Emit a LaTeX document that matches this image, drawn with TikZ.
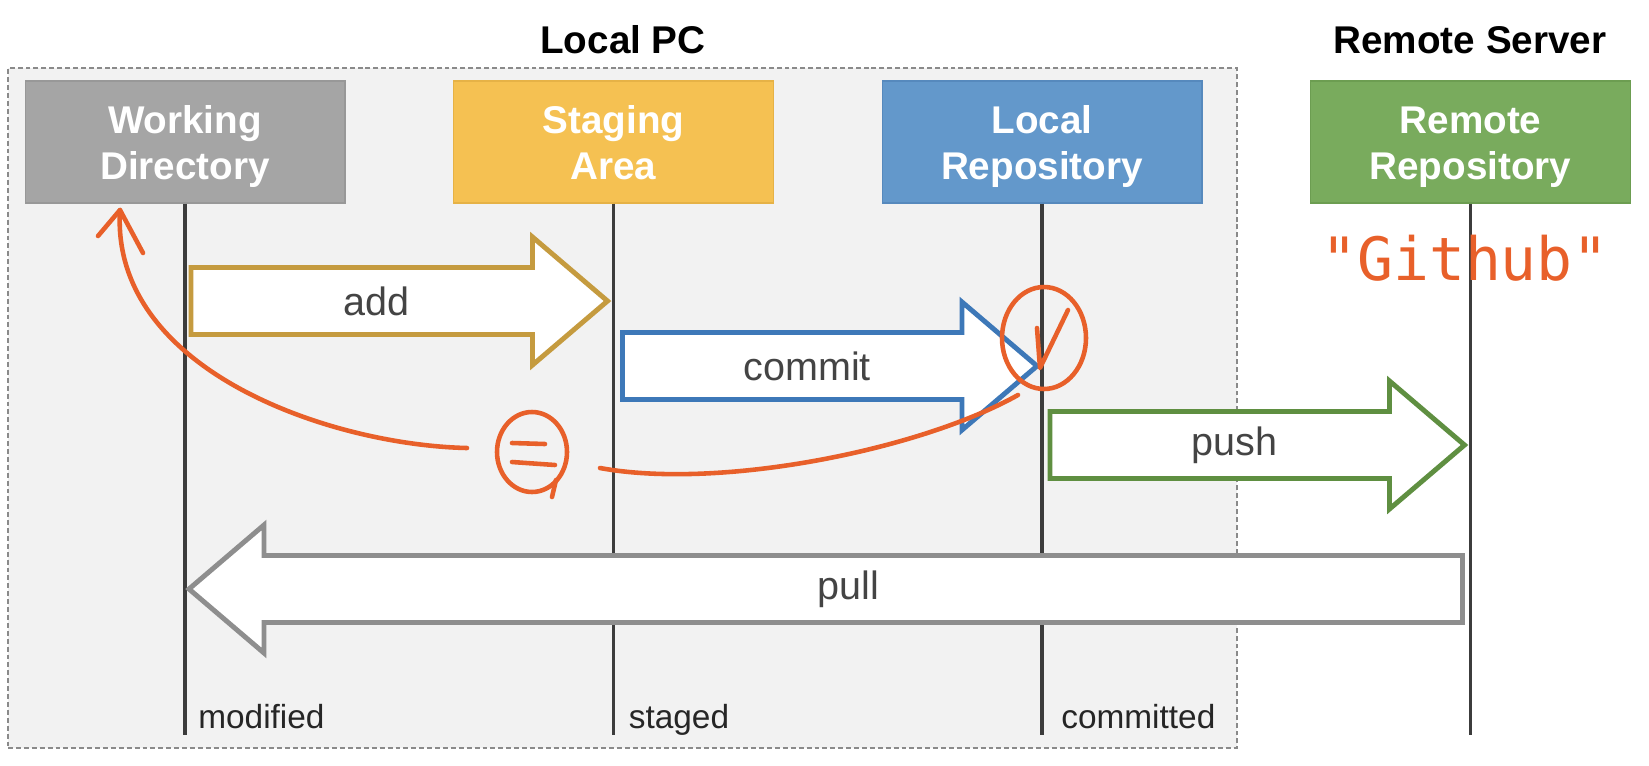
\documentclass[tikz,border=0pt]{standalone}
\usepackage{fontspec}
\setmainfont{Liberation Sans}
\newfontfamily\handfont{DejaVu Sans Mono}
\usepackage{tikz}
\usetikzlibrary{calc, positioning}

\definecolor{wdfill}{HTML}{A5A5A5}
\definecolor{wdline}{HTML}{989898}
\definecolor{safill}{HTML}{F5C152}
\definecolor{saline}{HTML}{E6B246}
\definecolor{lrfill}{HTML}{6398CB}
\definecolor{lrline}{HTML}{5689BD}
\definecolor{rrfill}{HTML}{79AB5D}
\definecolor{rrline}{HTML}{6C9D51}
\definecolor{addcol}{HTML}{C59B3F}
\definecolor{commitcol}{HTML}{3D78B8}
\definecolor{pushcol}{HTML}{5F8F41}
\definecolor{pullcol}{HTML}{8E8E8E}
\definecolor{lifegray}{HTML}{3C3C3C}
\definecolor{labelgray}{HTML}{444444}
\definecolor{pcfill}{HTML}{F2F2F2}
\definecolor{pcline}{HTML}{8A8A8A}
\definecolor{pen}{HTML}{E8602A}

\tikzset{
  area/.style={draw, line width=0.6pt, minimum width=6.4cm, minimum height=2.44cm,
    inner sep=0pt, align=center, text=white, font=\bfseries\fontsize{22}{26.2}\selectfont,
    text height=1.68cm, text depth=0.16cm},
  title/.style={font=\bfseries\fontsize{22}{26}\selectfont},
  lifeline/.style={draw=lifegray, line width=2pt},
  fat/.style={fill=white, line width=2.8pt, line join=miter},
  verb/.style={text=labelgray, font=\fontsize{22.5}{26}\selectfont},
  phase/.style={anchor=base west, inner sep=0pt, text=black!85, font=\fontsize{19}{22}\selectfont},
  scribble/.style={draw=pen, line width=2.6pt, line cap=round, line join=round}
}

% #1 tail, #2 tip, #3 colour, #4 label
\newcommand{\fatarrow}[4]{%
  \draw[fat, draw=#3] let \p1=(#1), \p2=(#2), \p3=($(#2)!1.5cm!(#1)$),
      \p4=($(#1)!.5!(\p3)$), \p5=($(\p4)!0.3cm!(#2)$) in
    (\x1,\y1+0.67cm) -- (\x3,\y1+0.67cm) -- (\x3,\y1+1.28cm) -- (\p2)
    -- (\x3,\y1-1.28cm) -- (\x3,\y1-0.67cm) -- (\x1,\y1-0.67cm) -- cycle
    (\p5) node[verb] (#4) {#4};
}

\begin{document}
\begin{tikzpicture}[x=0.02cm, y=-0.02cm]
  \useasboundingbox (0,0) rectangle (1649,765);

  \node[draw=pcline, fill=pcfill, line width=1pt, dash pattern=on 2.8pt off 1.7pt,
    minimum width=24.58cm, minimum height=13.6cm] (local) at (622.5,408) {};
  \node[title] (localpc) at (623,40) {Local PC};
  \node[title] (server) at (1470,40) {Remote Server};

  \node[area, fill=wdfill, draw=wdline] (wd) at (185,142) {Working\\Directory};
  \node[area, fill=safill, draw=saline] (sa) at (613.5,142) {Staging\\Area};
  \node[area, fill=lrfill, draw=lrline] (lr) at (1042,142) {Local\\Repository};
  \node[area, fill=rrfill, draw=rrline] (rr) at (1470.5,142) {Remote\\Repository};

  \coordinate (wd end) at (wd.south |- 0,735);
  \coordinate (sa end) at (sa.south |- 0,735);
  \coordinate (lr end) at (lr.south |- 0,735);
  \coordinate (rr end) at (rr.south |- 0,735);
  \path[lifeline]
    (wd) edge (wd end)
    (sa) edge (sa end)
    (lr) edge (lr end)
    (rr) edge (rr end);

  \coordinate (add tail) at ($(wd.south |- 0,301)+(6,0)$);
  \coordinate (add tip) at ($(sa.south |- 0,301)+(-6,0)$);
  \coordinate (commit tail) at ($(sa.south |- 0,366)+(9,0)$);
  \coordinate (commit tip) at ($(lr.south |- 0,366)+(-5,0)$);
  \coordinate (push tail) at ($(lr.south |- 0,445)+(8,0)$);
  \coordinate (push tip) at ($(rr.south |- 0,445)+(-6,0)$);
  \coordinate (pull tail) at ($(rr.south |- 0,589)+(-8,0)$);
  \coordinate (pull tip) at ($(wd.south |- 0,589)+(4,0)$);

  \fatarrow{add tail}{add tip}{addcol}{add}
  \fatarrow{commit tail}{commit tip}{commitcol}{commit}
  \fatarrow{push tail}{push tip}{pushcol}{push}
  \fatarrow{pull tail}{pull tip}{pullcol}{pull}

  \node[phase] (modified) at ($(wd end)+(13,-7)$) {modified};
  \node[phase] (staged) at ($(sa end)+(15,-7)$) {staged};
  \node[phase] (committed) at ($(lr end)+(19,-7)$) {committed};

  \draw[scribble] (467,448) .. controls (330,445) and (110,370) .. (120,210);
  \draw[scribble] (98,236) -- (120,210) -- (143,253);
  \draw[scribble] (532,452) ellipse [x radius=0.7cm, y radius=0.8cm];
  \draw[scribble] (556,480) -- (552,497);
  \draw[scribble] (512,443) -- (545,444) (512,462) -- (555,465);
  \draw[scribble] (600,468) .. controls (720,490) and (920,450) .. (1018,395);
  \draw[scribble] (1044,338) ellipse [x radius=0.84cm, y radius=1.02cm];
  \draw[scribble] (1037,328) -- (1040,368) -- (1068,310);
  \node[anchor=base, text=pen, font=\handfont\fontsize{34}{40}\selectfont] (github)
    at (1465,280) {"Github"};
\end{tikzpicture}
\end{document}
